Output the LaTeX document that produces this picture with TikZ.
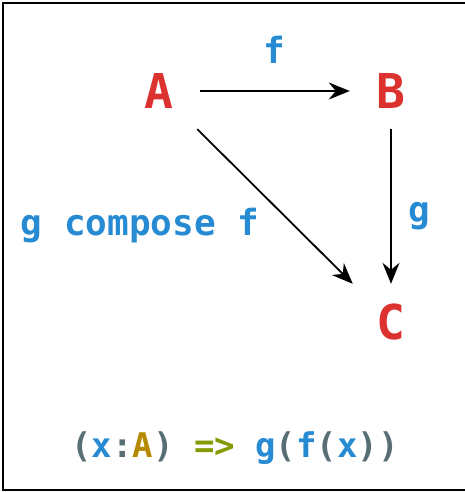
\documentclass[tikz,border=0pt]{standalone}
\usepackage{fontspec}
\setmonofont{DejaVu Sans Mono}
\usetikzlibrary{arrows.meta}
\definecolor{solred}{HTML}{DC322F}
\definecolor{solblue}{HTML}{268BD2}
\definecolor{solyellow}{HTML}{B58900}
\definecolor{solgreen}{HTML}{859900}
\definecolor{solgray}{HTML}{586E75}
\tikzset{
  obj/.style={font=\ttfamily\bfseries\fontsize{48}{48}\selectfont, text=solred,
    minimum width=82pt, minimum height=76pt, inner sep=0pt},
  lbl/.style={font=\ttfamily\bfseries\fontsize{36}{36}\selectfont, text=solblue,
    inner sep=0pt, anchor=base},
  arr/.style={-{Stealth[length=21pt,width=17pt,inset=7pt]}, line width=1.8pt},
}
\begin{document}
\begin{tikzpicture}[x=1pt,y=1pt]
\useasboundingbox (0,0) rectangle (464,492);
%frame
\draw[line width=2pt] (470,488.5) -- (3,488.5) -- (3,1.5) -- (470,1.5);
%objects
\node[obj] (A) at (159,401) {A};
\node[obj] (B) at (391,401) {B};
\node[obj] (C) at (391,170) {C};
%morphisms
\draw[arr] (A) -- (B);
\draw[arr] (B) -- (C);
\draw[arr] (A) -- (C);
\node[lbl] (f) at (274,428) {f};
\node[lbl] (g) at (419,269) {g};
\node[lbl] (gf) at (140,256) {g compose f};
%composite as a function
\node[lbl, font=\ttfamily\bfseries\fontsize{34}{34}\selectfont, text=solgray] (lam) at (235,34)
  {(\textcolor{solblue}{x}:\textcolor{solyellow}{A}) \textcolor{solgreen}{=>} \textcolor{solblue}{g}(\textcolor{solblue}{f}(\textcolor{solblue}{x}))};
\end{tikzpicture}
\end{document}
